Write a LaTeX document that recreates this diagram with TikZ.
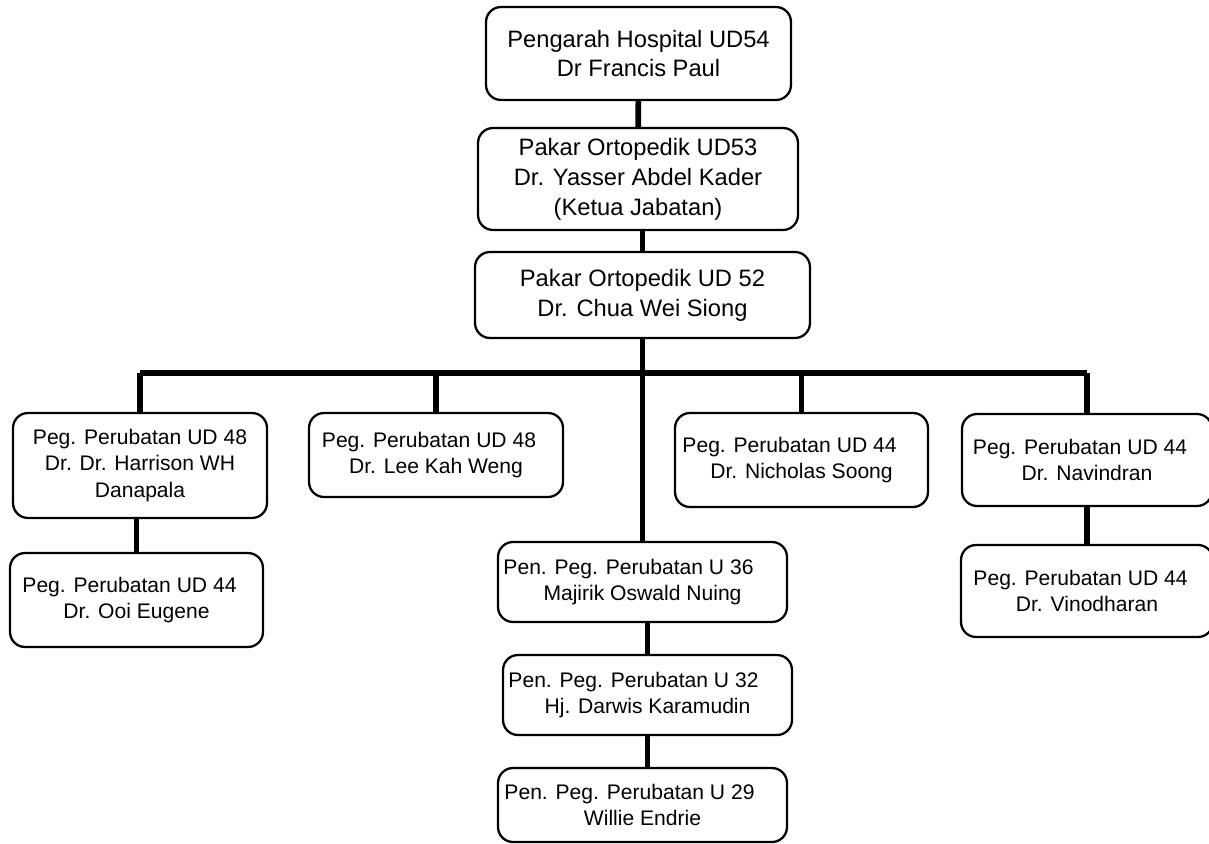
\documentclass[tikz,border=0pt]{standalone}
\usepackage{fontspec}
\setmainfont{Liberation Sans}
\usepackage{tikz}
\usetikzlibrary{positioning}
\tikzset{orgbox/.style={draw,rounded corners=0.3cm,line width=1.3pt,align=center,inner sep=0pt,font=\fontsize{12}{15.3}\selectfont},
         bigbox/.style={orgbox,font=\fontsize{13.5}{17}\selectfont},
         link/.style={line width=3.2pt}}
\newcommand{\pad}[1]{\rule{#1}{0pt}}

\begin{document}
\begin{tikzpicture}[x=0.02cm,y=-0.02cm]
                \useasboundingbox (0,0) rectangle (1209,844);
                % top of the chart
                \node[bigbox,minimum width=6.1cm,minimum height=1.86cm] (hosp) at (638.5,53.5)
                    {Pengarah Hospital UD54\\Dr Francis Paul};
                \node[bigbox,minimum width=6.4cm,minimum height=2.04cm] (ketua) at (638,179)
                    {Pakar Ortopedik UD53\\Dr. Yasser Abdel Kader\\(Ketua Jabatan)};
                \node[bigbox,minimum width=6.7cm,minimum height=1.72cm] (pakar) at (642.5,295)
                    {Pakar Ortopedik UD 52\\Dr. Chua Wei Siong};
                % second level
                \node[orgbox,minimum width=5.08cm,minimum height=2.1cm] (harr) at (140,465.5)
                    {Peg. Perubatan UD 48\\Dr. Dr. Harrison WH\\Danapala};
                \node[orgbox,minimum width=5.06cm,minimum height=1.88cm] (ooi) at (136.5,600)
                    {Peg. Perubatan UD 44\pad{0.28cm}\\Dr. Ooi Eugene};
                \node[orgbox,minimum width=5.08cm,minimum height=1.68cm] (lee) at (436,455)
                    {Peg. Perubatan UD 48\pad{0.28cm}\\Dr. Lee Kah Weng};
                \node[orgbox,minimum width=5.06cm,minimum height=1.88cm] (nich) at (801.5,460)
                    {Peg. Perubatan UD 44\pad{0.48cm}\\Dr. Nicholas Soong};
                \node[orgbox,minimum width=5cm,minimum height=1.84cm] (navi) at (1087,460)
                    {Peg. Perubatan UD 44\pad{0.28cm}\\Dr. Navindran};
                \node[orgbox,minimum width=5.04cm,minimum height=1.84cm] (vino) at (1087,591)
                    {Peg. Perubatan UD 44\pad{0.26cm}\\Dr. Vinodharan};
                % middle column
                \node[orgbox,minimum width=5.78cm,minimum height=1.6cm] (maj) at (642.5,582)
                    {Pen. Peg. Perubatan U 36\pad{0.56cm}\\Majirik Oswald Nuing};
                \node[orgbox,minimum width=5.78cm,minimum height=1.6cm] (darw) at (647.5,695)
                    {Pen. Peg. Perubatan U 32\pad{0.56cm}\\Hj. Darwis Karamudin};
                \node[orgbox,minimum width=5.78cm,minimum height=1.48cm] (wil) at (642.5,805)
                    {Pen. Peg. Perubatan U 29\pad{0.52cm}\\Willie Endrie};
                \coordinate (bar) at (642.5,373);

                \draw[link] (hosp) -- (ketua);
                \draw[link] (pakar.north) -- (pakar.north |- ketua.south);
                \draw[link] (pakar) -- (pakar.south |- bar);
                \draw[link] (harr.north |- bar) -- (navi.north |- bar);
                \foreach \n in {harr,lee,nich,navi}
                    \draw[link] (\n.north) -- (\n.north |- bar);
                \draw[link] (maj.north) -- (maj.north |- bar);
                \draw[link] (darw.north) -- (darw.north |- maj.south);
                \draw[link] (darw.south) -- (darw.south |- wil.north);
                \draw[link] (ooi.north) -- (ooi.north |- harr.south);
                \draw[link] (navi) -- (vino);
            \end{tikzpicture}
\end{document}
